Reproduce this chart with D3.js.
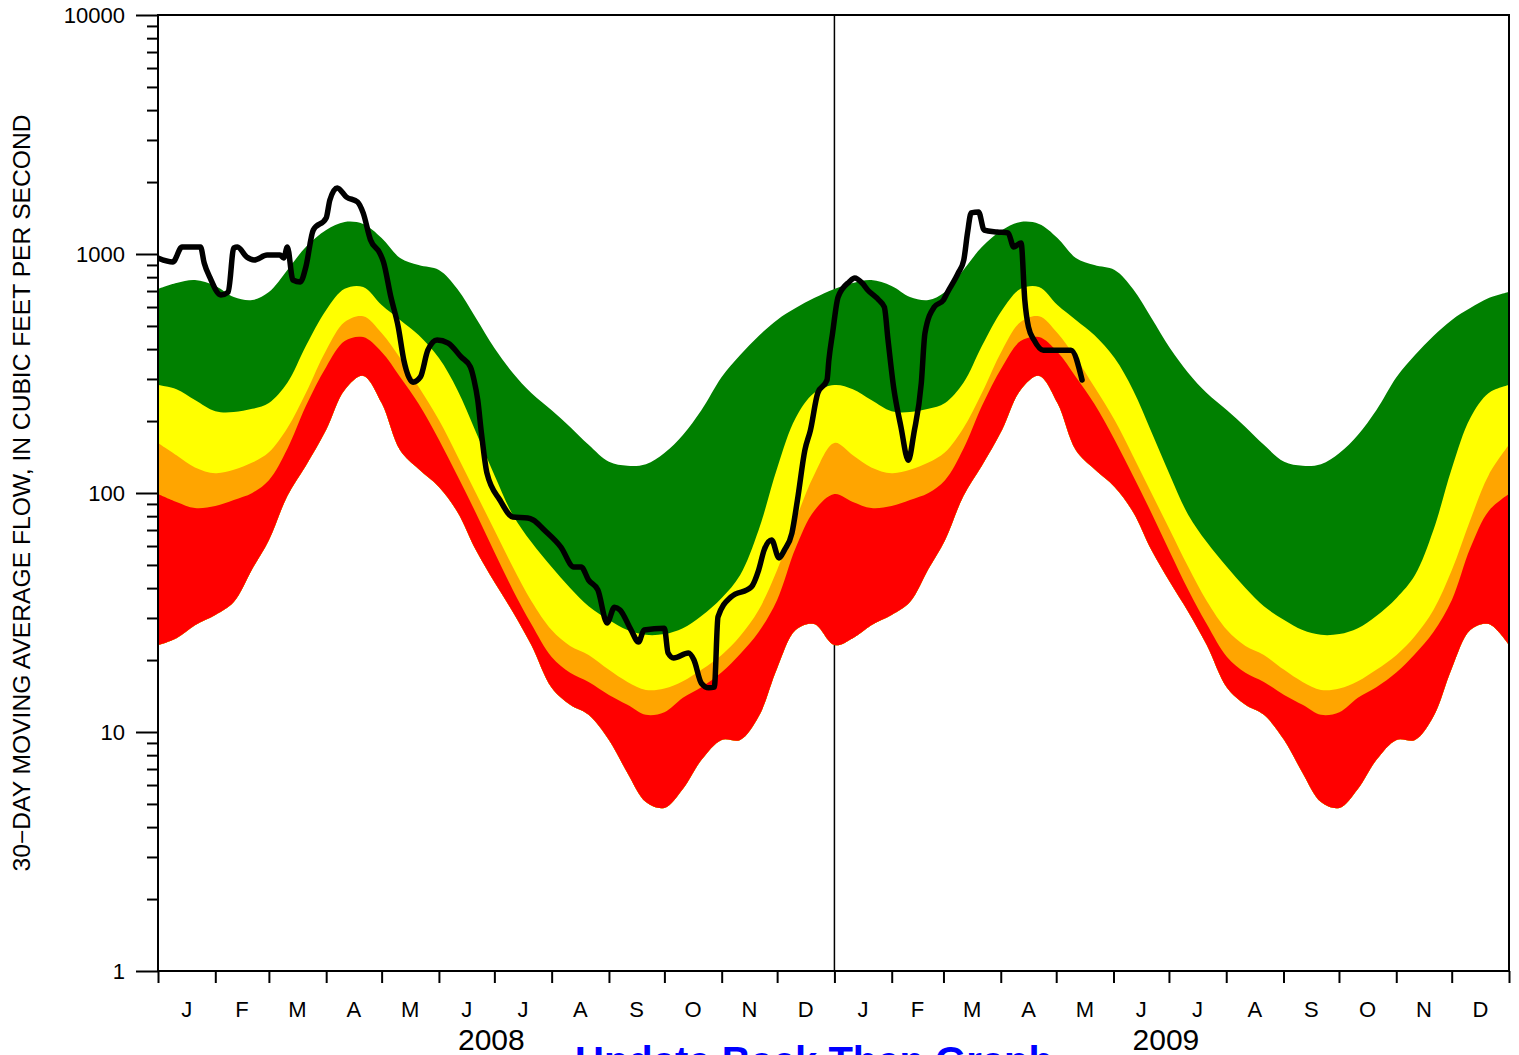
<!DOCTYPE html>
<html><head><meta charset="utf-8">
<script src="https://cdn.jsdelivr.net/npm/d3@7"></script>
<style>
body{margin:0;background:#fff}
svg{display:block;background:#fff}
text{font-family:"Liberation Sans",Arial,Helvetica,sans-serif;fill:#000}
</style>
</head><body>
<svg id="c" width="1519" height="1055"></svg>
<script>
// ---- DATA ----
// day-of-year anchors for the percentile bands (same each year)
const bandDays = [0,10,20,31,41,51,60,70,80,91,101,111,121,131,141,152,162,172,182,192,202,213,223,233,244,254,264,274,284,294,305,315,325,335,345,355,366];
// lower edge of red band (minimum)
const bandMin = [23.1,24.7,28.0,30.9,35.0,48.1,63.5,97.2,130,184,270,309,238,151,126,106,83.3,57.7,42.4,31.8,23.1,15.3,13.0,11.8,9.26,6.74,5.09,4.81,5.77,7.63,9.26,9.26,11.6,18.5,26.7,28.3,23.1];
// red / orange boundary
const bandP10 = [99,91.7,86.5,88.2,93.5,100,113,153,231,337,432,449,389,306,236,167,118,82.5,56.7,39.3,28.3,20.6,17.7,16.2,14.3,13.0,11.8,12.1,13.9,15.4,17.8,21.2,26.2,35.7,58.8,84.1,99];
// orange / yellow boundary
const bandP25 = [162,144,128,121,125,134,148,187,262,396,519,549,467,367,278,202,143,100,70.0,49.0,35.3,26.7,22.9,21.0,18.2,16.2,15.0,15.2,16.3,18.2,21.0,25.2,32.4,47.6,77.1,119,159];
// yellow / green boundary
const bandP50 = [283,272,245,220,218,225,238,289,412,583,715,728,612,530,458,367,270,180,119,80.9,62.3,49.0,40.0,33.6,29.4,26.7,25.5,25.7,27.2,30.6,36.4,45.4,70.0,127,206,262,283];
// upper edge of green band
const bandP75 = [714,756,778,735,661,642,693,857,1070,1260,1361,1335,1167,962,899,857,714,540,404,318,262,222,189,159,135,130,132,147,175,222,306,378,454,530,594,654,693];

// observed 30-day moving average flow
const flowDates = ["2008-01-01","2008-01-09","2008-01-14","2008-01-24","2008-01-26","2008-01-29","2008-02-04","2008-02-08","2008-02-11","2008-02-13","2008-02-18","2008-02-22","2008-02-29","2008-03-07","2008-03-09","2008-03-11","2008-03-14","2008-03-18","2008-03-21","2008-03-25","2008-04-01","2008-04-03","2008-04-07","2008-04-12","2008-04-18","2008-04-21","2008-04-25","2008-04-30","2008-05-02","2008-05-06","2008-05-10","2008-05-13","2008-05-18","2008-05-22","2008-05-26","2008-05-31","2008-06-06","2008-06-13","2008-06-18","2008-06-20","2008-06-22","2008-06-24","2008-06-27","2008-07-04","2008-07-11","2008-07-19","2008-07-22","2008-07-28","2008-08-06","2008-08-13","2008-08-17","2008-08-21","2008-08-26","2008-08-31","2008-09-04","2008-09-07","2008-09-13","2008-09-17","2008-09-20","2008-10-01","2008-10-03","2008-10-06","2008-10-14","2008-10-17","2008-10-21","2008-10-25","2008-10-28","2008-10-30","2008-11-06","2008-11-17","2008-11-21","2008-11-24","2008-11-28","2008-12-02","2008-12-05","2008-12-09","2008-12-12","2008-12-16","2008-12-19","2008-12-23","2008-12-28","2008-12-29","2008-12-31","2009-01-03","2009-01-09","2009-01-12","2009-01-16","2009-01-19","2009-01-25","2009-01-28","2009-01-30","2009-02-02","2009-02-06","2009-02-10","2009-02-13","2009-02-17","2009-02-19","2009-02-24","2009-03-01","2009-03-03","2009-03-09","2009-03-12","2009-03-14","2009-03-16","2009-03-20","2009-03-23","2009-03-30","2009-04-05","2009-04-08","2009-04-12","2009-04-14","2009-04-16","2009-04-19","2009-04-24","2009-04-28","2009-05-09","2009-05-15"];
const flowValues = [962,926,1070,1070,917,801,674,693,1060,1070,971,944,990,990,962,1070,778,764,883,1259,1415,1683,1890,1730,1651,1486,1145,1009,926,661,495,360,291,306,396,437,424,371,337,297,245,178,121,93.5,79.4,78.6,77.1,70,59.4,49,49,43.2,39.3,28.6,33.3,32.4,26.7,23.8,26.7,27.2,21.4,20.4,21.4,20,16,15.3,15.4,30.3,36.7,40.4,47.6,57.8,63.6,53.5,57.8,68,93.5,151,183,262,297,360,467,661,764,794,756,707,642,600,437,278,189,137,178,288,467,600,642,687,833,944,1224,1486,1499,1259,1236,1224,1070,1112,642,495,437,396,396,396,297];

const monthLabels = ["J","F","M","A","M","J","J","A","S","O","N","D"];
const yearLabels = ["2008","2009"];
const yMajorTicks = [1,10,100,1000,10000];
const yTitle = "30\u2212DAY  MOVING  AVERAGE  FLOW,  IN  CUBIC  FEET  PER  SECOND";
const footerText = "Update Back Then Graph";
const bandColors = ["#008000","#ffff00","#ffa500","#ff0000"]; // green, yellow, orange, red

// ---- CHART ----
const svg = d3.select("#c");
const L=158, R=1509, T=15, B=971;
const x = d3.scaleUtc().domain([Date.UTC(2008,0,1), Date.UTC(2010,0,1)]).range([L,R]);
const y = d3.scaleLog().domain([1,10000]).range([B,T]);

svg.append("defs").append("clipPath").attr("id","plot")
  .append("rect").attr("x",L).attr("y",T).attr("width",R-L).attr("height",B-T);

// year divider (drawn beneath bands)
const x2009 = x(Date.UTC(2009,0,1));
svg.append("line").attr("x1",x2009).attr("x2",x2009).attr("y1",T).attr("y2",B)
  .attr("stroke","#000").attr("stroke-width",1.5);

// build band rows for each year
const rows=[];
yearLabels.forEach((ys,k)=>{
  const yr=+ys, s=Date.UTC(yr,0,1), e=Date.UTC(yr+1,0,1);
  bandDays.forEach((d,i)=>{
    if(k===0 && i===bandDays.length-1) return;
    rows.push({t:new Date(s+(e-s)*d/366),
      v:[bandMin[i],bandP10[i],bandP25[i],bandP50[i],bandP75[i]]});
  });
});
const g = svg.append("g").attr("clip-path","url(#plot)");
// draw from bottom edge to each top, stacking so there are no seams
[4,3,2,1].forEach((top,idx)=>{
  const area = d3.area().curve(d3.curveCatmullRom.alpha(0.5))
    .x(r=>x(r.t)).y0(r=>y(r.v[0])).y1(r=>y(r.v[top]));
  g.append("path").datum(rows).attr("d",area).attr("fill",bandColors[idx]);
});

// flow line
const parse = d3.utcParse("%Y-%m-%d");
const flow = flowDates.map((d,i)=>({t:parse(d), v:flowValues[i]}));
g.append("path").datum(flow)
  .attr("d", d3.line().curve(d3.curveMonotoneX).x(p=>x(p.t)).y(p=>y(p.v)))
  .attr("fill","none").attr("stroke","#000").attr("stroke-width",5.5)
  .attr("stroke-linejoin","round").attr("stroke-linecap","round");

// y axis
const yMinor=[];
for(let k=0;k<4;k++) for(let m=2;m<=9;m++) yMinor.push(m*Math.pow(10,k));
const ya = svg.append("g").attr("transform",`translate(${L},0)`)
  .call(d3.axisLeft(y).tickValues(yMajorTicks).tickSize(22).tickPadding(11).tickFormat(d3.format("d")));
ya.select(".domain").remove();
ya.selectAll("line").attr("stroke-width",2);
ya.selectAll("text").attr("font-size",22).attr("font-family","Liberation Sans, Arial, sans-serif");
const ym = svg.append("g").attr("transform",`translate(${L},0)`)
  .call(d3.axisLeft(y).tickValues(yMinor).tickSize(11).tickFormat(""));
ym.select(".domain").remove();
ym.selectAll("line").attr("stroke-width",2);

// x axis ticks
const xa = svg.append("g").attr("transform",`translate(0,${B})`)
  .call(d3.axisBottom(x).ticks(d3.utcMonth.every(1)).tickSize(12).tickFormat(""));
xa.select(".domain").remove();
xa.selectAll("line").attr("stroke-width",2);

// month labels
yearLabels.forEach(ys=>{
  const yr=+ys;
  monthLabels.forEach((m,i)=>{
    const s=Date.UTC(yr,i,1), e=Date.UTC(yr,i+1,1);
    svg.append("text").attr("x",x(new Date((s+e)/2))).attr("y",1017)
      .attr("text-anchor","middle").attr("font-size",22).text(m);
  });
  svg.append("text").attr("x",x(new Date(Date.UTC(yr,6,1)))-3).attr("y",1050)
    .attr("text-anchor","middle").attr("font-size",30).text(ys);
});

// frame
svg.append("rect").attr("x",L).attr("y",T).attr("width",R-L).attr("height",B-T)
  .attr("fill","none").attr("stroke","#000").attr("stroke-width",2);

// y title
svg.append("text").attr("transform","translate(30,493) rotate(-90)")
  .attr("text-anchor","middle").attr("font-size",23.5)
  .attr("textLength",757).attr("lengthAdjust","spacingAndGlyphs").text(yTitle);

// footer link text (cut off by the page edge, as in the original)
svg.append("text").attr("x",575).attr("y",1075).attr("font-size",40)
  .attr("font-weight","bold").style("fill","#0000ff").text(footerText);
</script>
</body></html>
